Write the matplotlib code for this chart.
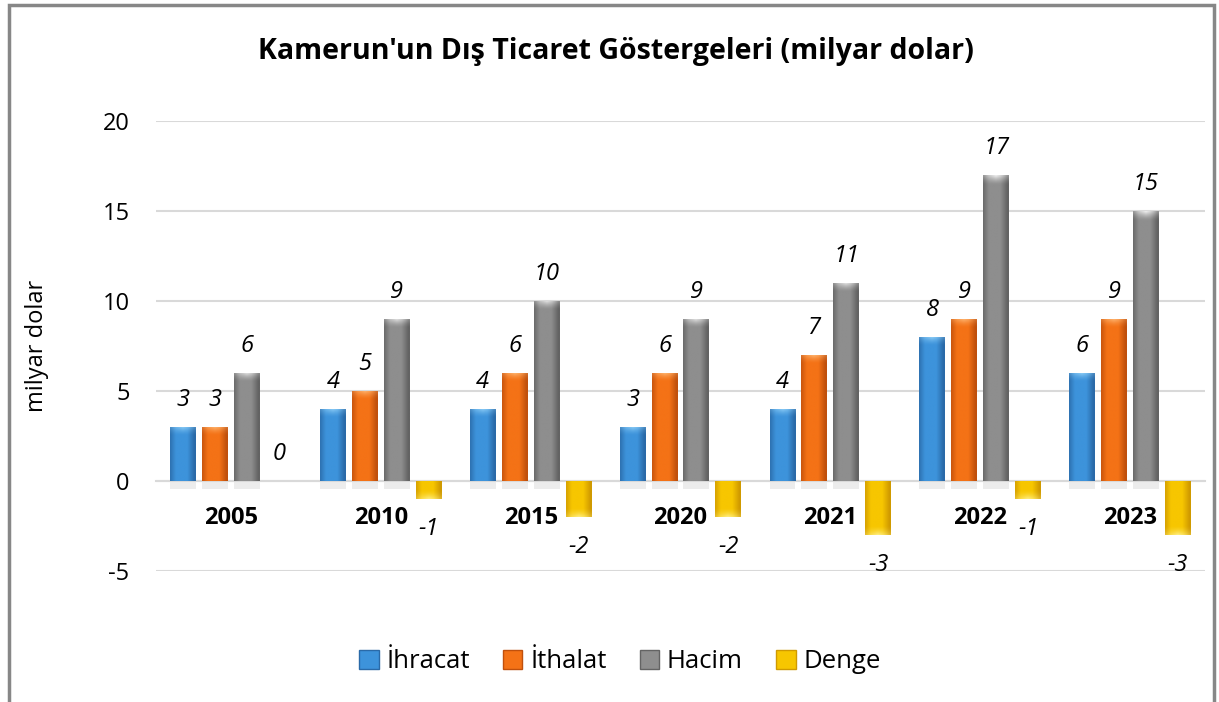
import numpy as np
import matplotlib.pyplot as plt
from matplotlib.patches import Rectangle
from matplotlib.colors import to_rgb

years = ['2005', '2010', '2015', '2020', '2021', '2022', '2023']
ihracat = [3, 4, 4, 3, 4, 8, 6]
ithalat = [3, 5, 6, 6, 7, 9, 9]
hacim = [6, 9, 10, 9, 11, 17, 15]
denge = [0, -1, -2, -2, -3, -1, -3]

series_names = ['İhracat', 'İthalat', 'Hacim', 'Denge']
series = [ihracat, ithalat, hacim, denge]
# base colour, dark edge colour, light highlight
colors = [('#3d93db', '#2a6aa8', '#9ad6fa'),
          ('#f47216', '#c0500c', '#ffc080'),
          ('#8e8e8e', '#636363', '#f0f0f0'),
          ('#f7c600', '#d09a00', '#fff08a')]

plt.rcParams['font.family'] = ['Open Sans', 'DejaVu Sans']
plt.rcParams['axes.unicode_minus'] = False

fig = plt.figure(figsize=(12.19, 7.02), dpi=100)
ax = fig.add_axes([156 / 1219, 1 - 571 / 702, 1049 / 1219, 450 / 702])

x = np.arange(len(years))
step = 0.213
width = 0.173


def shade_bar(ax, bar, dark, base, light):
    # bevel look: horizontal gradient plus a light cap at the outer end
    x0, y0 = bar.get_x(), bar.get_y()
    w, h = bar.get_width(), bar.get_height()
    if h == 0:
        return
    d, b, l = np.array(to_rgb(dark)), np.array(to_rgb(base)), np.array(to_rgb(light))
    t = np.linspace(0, 1, 48)
    prof = np.clip(1 - np.abs(t - 0.45) * 2.0, 0, 1)
    row = d[None, :] + (b - d)[None, :] * np.clip(prof * 1.8, 0, 1)[:, None]
    ny = 200
    ylo, yhi = min(y0, y0 + h), max(y0, y0 + h)
    yy = np.linspace(yhi, ylo, ny)
    outer = yhi if h > 0 else ylo
    dist = np.abs(yy - outer)
    cap = np.clip(1 - dist / 0.5, 0, 1) ** 1.5
    capx = np.clip(1 - np.abs(t - 0.5) * 2.2, 0, 1)
    img = row[None, :, :] + (l - row[None, :, :]) * (cap[:, None] * (0.35 + 0.6 * capx[None, :]))[:, :, None]
    img = np.clip(img, 0, 1)
    im = ax.imshow(img, extent=[x0, x0 + w, ylo, yhi], aspect='auto',
                   interpolation='bilinear', zorder=3)
    im.set_clip_path(bar)


for i, (name, vals, (base, dark, light)) in enumerate(zip(series_names, series, colors)):
    pos = x + (i - 1.5) * step
    bars = ax.bar(pos, vals, width, color=base, label=name, zorder=2,
                  edgecolor='none')
    for b in bars:
        shade_bar(ax, b, dark, base, light)
        if b.get_height() > 0:
            # soft shadow under the bar
            ax.add_patch(Rectangle((b.get_x(), -0.45), b.get_width(), 0.45,
                                   facecolor='#ececec', edgecolor='none', zorder=1))
    for p, v in zip(pos, vals):
        off = 1.5 if v >= 0 else -1.65
        ax.text(p, v + off, f'{v}', ha='center', va='center', fontsize=17,
                style='italic', color='black', zorder=5)

ax.set_xlim(-0.5, len(years) - 0.5)
ax.set_ylim(-5, 20)
ax.set_yticks([-5, 0, 5, 10, 15, 20])
ax.grid(axis='y', color='#d9d9d9', linewidth=1.5, zorder=0)
ax.set_axisbelow(True)
for s in ['top', 'right', 'left']:
    ax.spines[s].set_visible(False)
ax.spines['bottom'].set_position(('data', 0))
ax.spines['bottom'].set_color('#d9d9d9')
ax.spines['bottom'].set_linewidth(1.5)
ax.set_xticks(x)
ax.set_xticklabels(years, fontsize=17, fontweight='bold')
ax.tick_params(axis='x', length=0, pad=18)
ax.tick_params(axis='y', length=0, pad=19, labelsize=17)
ax.set_ylabel('milyar dolar', fontsize=17)
ax.yaxis.set_label_coords(-0.102, 0.5)

fig.text(616 / 1219, 1 - 52 / 702, "Kamerun'un Dış Ticaret Göstergeleri (milyar dolar)",
         ha='center', va='center', fontsize=20.5, fontweight='bold')

handles = [Rectangle((0, 0), 1, 1, facecolor=c[0], edgecolor=c[1]) for c in colors]
fig.legend(handles, series_names, loc='center', bbox_to_anchor=(620 / 1219, 1 - 662 / 702),
           ncol=4, frameon=False, fontsize=18.5, handlelength=0.75, handleheight=0.75,
           handletextpad=0.3, columnspacing=1.3)

# outer frame of the chart
fig.add_artist(Rectangle((9 / 1219, -0.05), 1205 / 1219, 1.05 - 5 / 702,
                         transform=fig.transFigure, fill=False,
                         edgecolor='#878787', linewidth=2.5))

fig.savefig('out.png', dpi=100)
